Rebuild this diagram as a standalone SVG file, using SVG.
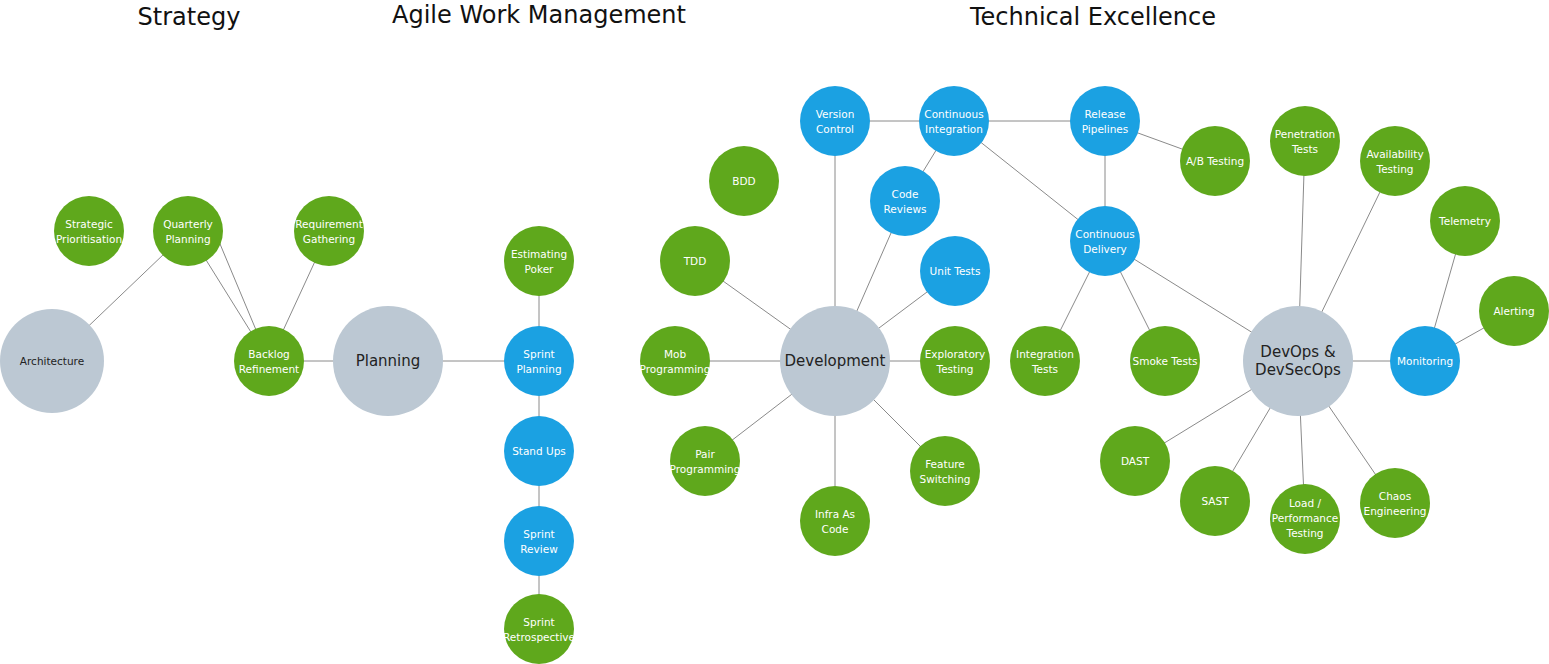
<svg xmlns="http://www.w3.org/2000/svg" width="1549" height="664" viewBox="0 0 1549 664">
<style>
.g{fill:#5fa81c}.b{fill:#1ba1e2}.y{fill:#bcc8d3}
text{font-family:"DejaVu Sans",Verdana,sans-serif;text-anchor:middle}
.s{font-size:10.5px;fill:#fff}.d{font-size:10.5px;fill:#222}.L{font-size:15px;fill:#222}
.t{font-size:24px;fill:#111}
#edges line{stroke:#8a8a8a;stroke-width:1}
</style>
<rect width="1549" height="664" fill="#fff"/>
<text class="t" x="189" y="25">Strategy</text>
<text class="t" x="539" y="23">Agile Work Management</text>
<text class="t" x="1093" y="25">Technical Excellence</text>
<g id="edges">
<line x1="188" y1="231" x2="52" y2="361"/>
<line x1="188" y1="231" x2="269" y2="361"/>
<line x1="210" y1="220" x2="269" y2="361"/>
<line x1="329" y1="231" x2="269" y2="361"/>
<line x1="269" y1="361" x2="388" y2="361"/>
<line x1="388" y1="361" x2="539" y2="361"/>
<line x1="539" y1="261" x2="539" y2="629"/>
<line x1="835" y1="121" x2="1105" y2="121"/>
<line x1="1105" y1="121" x2="1215" y2="161"/>
<line x1="835" y1="121" x2="835" y2="361"/>
<line x1="954" y1="121" x2="905" y2="201"/>
<line x1="954" y1="121" x2="1105" y2="241"/>
<line x1="1105" y1="121" x2="1105" y2="241"/>
<line x1="905" y1="201" x2="835" y2="361"/>
<line x1="955" y1="271" x2="835" y2="361"/>
<line x1="695" y1="261" x2="835" y2="361"/>
<line x1="675" y1="361" x2="955" y2="361"/>
<line x1="705" y1="461" x2="835" y2="361"/>
<line x1="945" y1="471" x2="835" y2="361"/>
<line x1="835" y1="521" x2="835" y2="361"/>
<line x1="1105" y1="241" x2="1045" y2="361"/>
<line x1="1105" y1="241" x2="1165" y2="361"/>
<line x1="1105" y1="241" x2="1298" y2="361"/>
<line x1="1298" y1="361" x2="1425" y2="361"/>
<line x1="1425" y1="361" x2="1465" y2="221"/>
<line x1="1425" y1="361" x2="1514" y2="311"/>
<line x1="1298" y1="361" x2="1305" y2="141"/>
<line x1="1298" y1="361" x2="1395" y2="161"/>
<line x1="1298" y1="361" x2="1135" y2="461"/>
<line x1="1298" y1="361" x2="1215" y2="501"/>
<line x1="1298" y1="361" x2="1305" y2="519"/>
<line x1="1298" y1="361" x2="1395" y2="503"/>
</g>
<g id="n-sp"><circle class="g" cx="89" cy="231" r="35"/><text class="s" x="89" y="228">Strategic</text><text class="s" x="89" y="243">Prioritisation</text></g>
<g id="n-qp"><circle class="g" cx="188" cy="231" r="35"/><text class="s" x="188" y="228">Quarterly</text><text class="s" x="188" y="243">Planning</text></g>
<g id="n-rg"><circle class="g" cx="329" cy="231" r="35"/><text class="s" x="329" y="228">Requirement</text><text class="s" x="329" y="243">Gathering</text></g>
<g id="n-arch"><circle class="y" cx="52" cy="361" r="52"/><text class="d" x="52" y="365">Architecture</text></g>
<g id="n-br"><circle class="g" cx="269" cy="361" r="35"/><text class="s" x="269" y="358">Backlog</text><text class="s" x="269" y="373">Refinement</text></g>
<g id="n-plan"><circle class="y" cx="388" cy="361" r="55"/><text class="L" x="388" y="366">Planning</text></g>
<g id="n-ep"><circle class="g" cx="539" cy="261" r="35"/><text class="s" x="539" y="258">Estimating</text><text class="s" x="539" y="273">Poker</text></g>
<g id="n-spl"><circle class="b" cx="539" cy="361" r="35"/><text class="s" x="539" y="358">Sprint</text><text class="s" x="539" y="373">Planning</text></g>
<g id="n-su"><circle class="b" cx="539" cy="451" r="35"/><text class="s" x="539" y="455">Stand Ups</text></g>
<g id="n-sr"><circle class="b" cx="539" cy="541" r="35"/><text class="s" x="539" y="538">Sprint</text><text class="s" x="539" y="553">Review</text></g>
<g id="n-sre"><circle class="g" cx="539" cy="629" r="35"/><text class="s" x="539" y="626">Sprint</text><text class="s" x="539" y="641">Retrospective</text></g>
<g id="n-vc"><circle class="b" cx="835" cy="121" r="35"/><text class="s" x="835" y="118">Version</text><text class="s" x="835" y="133">Control</text></g>
<g id="n-ci"><circle class="b" cx="954" cy="121" r="35"/><text class="s" x="954" y="118">Continuous</text><text class="s" x="954" y="133">Integration</text></g>
<g id="n-rp"><circle class="b" cx="1105" cy="121" r="35"/><text class="s" x="1105" y="118">Release</text><text class="s" x="1105" y="133">Pipelines</text></g>
<g id="n-ab"><circle class="g" cx="1215" cy="161" r="35"/><text class="s" x="1215" y="165">A/B Testing</text></g>
<g id="n-bdd"><circle class="g" cx="744" cy="181" r="35"/><text class="s" x="744" y="185">BDD</text></g>
<g id="n-cr"><circle class="b" cx="905" cy="201" r="35"/><text class="s" x="905" y="198">Code</text><text class="s" x="905" y="213">Reviews</text></g>
<g id="n-tdd"><circle class="g" cx="695" cy="261" r="35"/><text class="s" x="695" y="265">TDD</text></g>
<g id="n-ut"><circle class="b" cx="955" cy="271" r="35"/><text class="s" x="955" y="275">Unit Tests</text></g>
<g id="n-cd"><circle class="b" cx="1105" cy="241" r="35"/><text class="s" x="1105" y="238">Continuous</text><text class="s" x="1105" y="253">Delivery</text></g>
<g id="n-mob"><circle class="g" cx="675" cy="361" r="35"/><text class="s" x="675" y="358">Mob</text><text class="s" x="675" y="373">Programming</text></g>
<g id="n-dev"><circle class="y" cx="835" cy="361" r="55"/><text class="L" x="835" y="366">Development</text></g>
<g id="n-et"><circle class="g" cx="955" cy="361" r="35"/><text class="s" x="955" y="358">Exploratory</text><text class="s" x="955" y="373">Testing</text></g>
<g id="n-it"><circle class="g" cx="1045" cy="361" r="35"/><text class="s" x="1045" y="358">Integration</text><text class="s" x="1045" y="373">Tests</text></g>
<g id="n-st"><circle class="g" cx="1165" cy="361" r="35"/><text class="s" x="1165" y="365">Smoke Tests</text></g>
<g id="n-devops"><circle class="y" cx="1298" cy="361" r="55"/><text class="L" x="1298" y="357">DevOps &amp;</text><text class="L" x="1298" y="375">DevSecOps</text></g>
<g id="n-mon"><circle class="b" cx="1425" cy="361" r="35"/><text class="s" x="1425" y="365">Monitoring</text></g>
<g id="n-pp"><circle class="g" cx="705" cy="461" r="35"/><text class="s" x="705" y="458">Pair</text><text class="s" x="705" y="473">Programming</text></g>
<g id="n-fs"><circle class="g" cx="945" cy="471" r="35"/><text class="s" x="945" y="468">Feature</text><text class="s" x="945" y="483">Switching</text></g>
<g id="n-iac"><circle class="g" cx="835" cy="521" r="35"/><text class="s" x="835" y="518">Infra As</text><text class="s" x="835" y="533">Code</text></g>
<g id="n-pt"><circle class="g" cx="1305" cy="141" r="35"/><text class="s" x="1305" y="138">Penetration</text><text class="s" x="1305" y="153">Tests</text></g>
<g id="n-at"><circle class="g" cx="1395" cy="161" r="35"/><text class="s" x="1395" y="158">Availability</text><text class="s" x="1395" y="173">Testing</text></g>
<g id="n-tel"><circle class="g" cx="1465" cy="221" r="35"/><text class="s" x="1465" y="225">Telemetry</text></g>
<g id="n-al"><circle class="g" cx="1514" cy="311" r="35"/><text class="s" x="1514" y="315">Alerting</text></g>
<g id="n-dast"><circle class="g" cx="1135" cy="461" r="35"/><text class="s" x="1135" y="465">DAST</text></g>
<g id="n-sast"><circle class="g" cx="1215" cy="501" r="35"/><text class="s" x="1215" y="505">SAST</text></g>
<g id="n-load"><circle class="g" cx="1305" cy="519" r="35"/><text class="s" x="1305" y="507">Load /</text><text class="s" x="1305" y="522">Performance</text><text class="s" x="1305" y="537">Testing</text></g>
<g id="n-chaos"><circle class="g" cx="1395" cy="503" r="35"/><text class="s" x="1395" y="500">Chaos</text><text class="s" x="1395" y="515">Engineering</text></g>
</svg>
